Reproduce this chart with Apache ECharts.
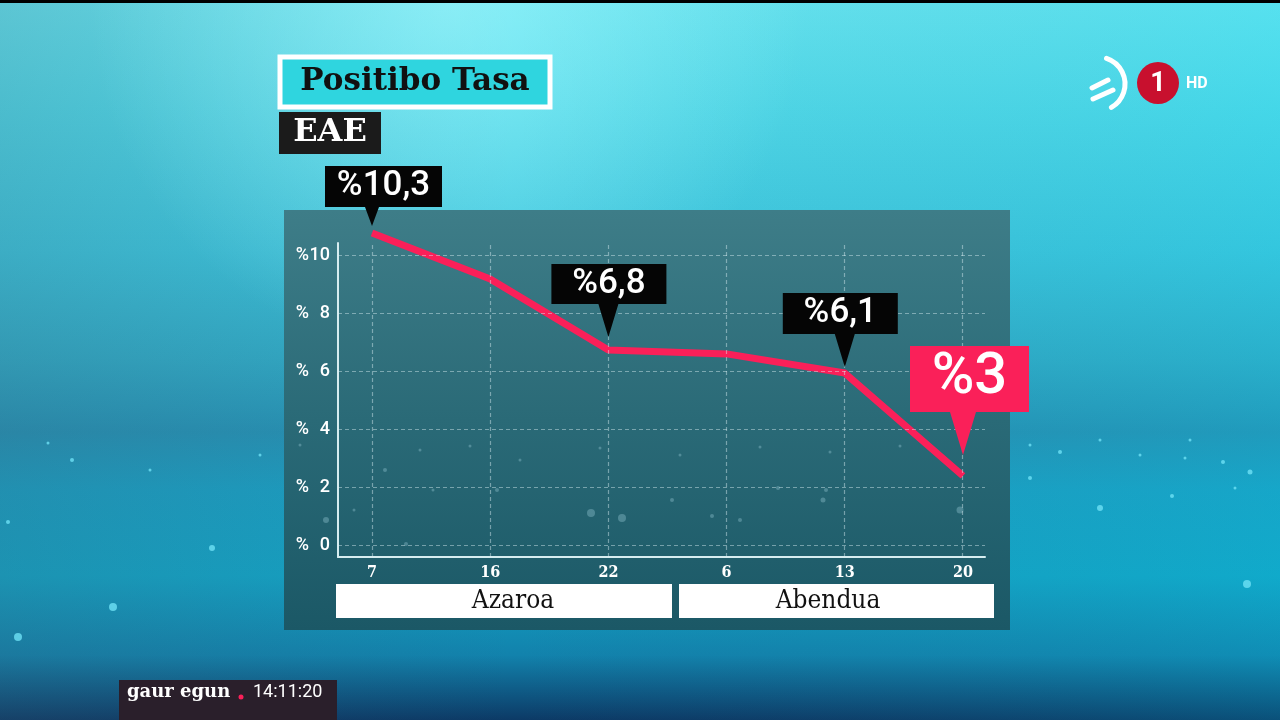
<!DOCTYPE html>
<html>
<head>
<meta charset="utf-8">
<script src="https://cdn.jsdelivr.net/npm/echarts@6/dist/echarts.min.js"></script>
<style>html,body{margin:0;padding:0;background:#000;}#c{width:1280px;height:720px;}</style>
</head>
<body>
<div id="c"></div>
<script>
// ---- data ----
const categories = ['7', '16', '22', '6', '13', '20'];
const months = ['Azaroa', 'Abendua'];
const values = [10.76, 9.17, 6.72, 6.59, 5.93, 2.38];
const yTicks = [0, 2, 4, 6, 8, 10];
const calloutIndex = [0, 2, 4, 5];
const calloutText = ['%10,3', '%6,8', '%6,1', '%3'];
const titleText = 'Positibo Tasa';
const regionText = 'EAE';

// ---- styles ----
const PINK = '#fa2059';
const slabFont = "'DejaVu Serif Condensed','DejaVu Serif',serif";
// callout box styles: width, box height, tip x, tip width, tip length, gap, color, font size
const pinStyles = [
  {w: 117, bh: 41, tx: 47, tw: 14, tl: 19, gap: 7, color: '#050505', fs: 35},
  {w: 115, bh: 40, tx: 57, tw: 20, tl: 33, gap: 13, color: '#050505', fs: 35},
  {w: 115, bh: 41, tx: 62, tw: 20, tl: 33, gap: 6, color: '#050505', fs: 35},
  {w: 119, bh: 66, tx: 53, tw: 26, tl: 43, gap: 21, color: PINK, fs: 58}
];
function pinPath(s) {
  const H = s.bh + s.tl;
  return 'path://M0,0 L' + s.w + ',0 L' + s.w + ',' + s.bh + ' L' + (s.tx + s.tw / 2) + ',' + s.bh +
    ' L' + s.tx + ',' + H + ' L' + (s.tx - s.tw / 2) + ',' + s.bh + ' L0,' + s.bh + ' Z';
}

const chart = echarts.init(document.getElementById('c'));
const G = echarts.graphic;

// decorative background sparkles (screen decoration, not data)
const sparkles = [
  [48, 443, 1.5], [72, 460, 2], [150, 470, 1.5], [212, 548, 3], [113, 607, 4], [18, 637, 4], [8, 522, 2],
  [260, 455, 1.5], [300, 445, 1.5], [1030, 445, 1.5], [1060, 452, 2], [1100, 440, 1.5], [1140, 455, 1.5],
  [1190, 440, 1.5], [1223, 462, 2], [1250, 472, 2.5], [1172, 496, 2], [1235, 488, 1.5], [1100, 508, 3],
  [1247, 584, 4], [1030, 478, 2], [1185, 458, 1.5],
  [420, 450, 1.5], [470, 446, 1.5], [520, 460, 1.5], [600, 448, 1.5], [680, 455, 1.5], [760, 447, 1.5],
  [830, 452, 1.5], [900, 446, 1.5], [385, 470, 2], [497, 490, 2], [591, 513, 4], [622, 518, 4],
  [672, 500, 2], [712, 516, 2], [778, 488, 2], [826, 490, 2], [823, 500, 2.5], [960, 510, 3.5],
  [406, 544, 2], [326, 520, 3], [354, 510, 1.5], [433, 490, 1.5], [740, 520, 2]
];

const graphics = [
  // background
  {type: 'rect', z: -10, silent: true, shape: {x: 0, y: 0, width: 1280, height: 720},
    style: {fill: new G.LinearGradient(0, 0, 0, 1, [
      {offset: 0, color: '#66e4f0'},
      {offset: 0.15, color: '#50d8e8'},
      {offset: 0.35, color: '#3cc4dc'},
      {offset: 0.5, color: '#30aac6'},
      {offset: 0.6, color: '#2592b5'},
      {offset: 0.68, color: '#1a9fc3'},
      {offset: 0.8, color: '#13a3c5'},
      {offset: 0.91, color: '#1282ac'},
      {offset: 1, color: '#0c3a66'}
    ])}},
  {type: 'rect', z: -9, silent: true, shape: {x: 0, y: 0, width: 1280, height: 720},
    style: {fill: new G.LinearGradient(0, 0, 1, 0, [
      {offset: 0, color: 'rgba(60,90,110,0.22)'},
      {offset: 0.4, color: 'rgba(60,90,110,0.0)'},
      {offset: 1, color: 'rgba(0,210,235,0.15)'}
    ])}},
  {type: 'rect', z: -8, silent: true, shape: {x: 0, y: 0, width: 1280, height: 720},
    style: {fill: new G.RadialGradient(0.35, 0.0, 0.5, [
      {offset: 0, color: 'rgba(175,250,255,0.5)'},
      {offset: 1, color: 'rgba(175,250,255,0)'}
    ])}},
  {type: 'rect', z: -7, silent: true, shape: {x: 0, y: 0, width: 1280, height: 3}, style: {fill: '#000'}},
  // chart panel
  {type: 'rect', z: -5, silent: true, shape: {x: 284, y: 210, width: 726, height: 420},
    style: {fill: new G.LinearGradient(0, 0, 0, 1, [
      {offset: 0, color: '#3e7d88'},
      {offset: 0.5, color: '#2a6a77'},
      {offset: 1, color: '#1b5866'}
    ])}},
  // title
  {type: 'rect', z: 5, shape: {x: 280, y: 57, width: 270, height: 50},
    style: {fill: '#2fd5df', stroke: '#ffffff', lineWidth: 5}},
  {type: 'text', z: 6, x: 415, y: 82, style: {text: titleText, fill: '#111', font: "bold 31px 'DejaVu Serif', serif", align: 'center', verticalAlign: 'middle'}},
  {type: 'rect', z: 5, shape: {x: 279, y: 112, width: 102, height: 42}, style: {fill: '#1b1b1b'}},
  {type: 'text', z: 6, x: 330, y: 133, style: {text: regionText, fill: '#fff', font: "bold 32px 'DejaVu Serif', serif", align: 'center', verticalAlign: 'middle'}},
  // month boxes
  {type: 'rect', z: 5, shape: {x: 336, y: 584, width: 336, height: 34}, style: {fill: '#ffffff'}},
  {type: 'text', z: 6, x: 513, y: 601, style: {text: months[0], fill: '#111', font: "26px " + slabFont, align: 'center', verticalAlign: 'middle'}},
  {type: 'rect', z: 5, shape: {x: 679, y: 584, width: 315, height: 34}, style: {fill: '#ffffff'}},
  {type: 'text', z: 6, x: 828, y: 601, style: {text: months[1], fill: '#111', font: "26px " + slabFont, align: 'center', verticalAlign: 'middle'}},
  // logo
  {type: 'arc', z: 5, shape: {cx: 1098, cy: 84, r: 27, startAngle: -1.25, endAngle: 1.05}, style: {stroke: '#fff', lineWidth: 5, fill: null, lineCap: 'round'}},
  {type: 'line', z: 5, shape: {x1: 1092, y1: 88, x2: 1108, y2: 80}, style: {stroke: '#fff', lineWidth: 5, lineCap: 'round'}},
  {type: 'line', z: 5, shape: {x1: 1093, y1: 99, x2: 1113, y2: 90}, style: {stroke: '#fff', lineWidth: 5, lineCap: 'round'}},
  {type: 'circle', z: 5, shape: {cx: 1158, cy: 83, r: 21}, style: {fill: '#c8102e'}},
  {type: 'text', z: 6, x: 1158, y: 84, style: {text: '1', fill: '#fff', font: "bold 27px 'Roboto', sans-serif", align: 'center', verticalAlign: 'middle'}},
  {type: 'text', z: 6, x: 1186, y: 84, style: {text: 'HD', fill: '#fff', font: "bold 16px 'Roboto', sans-serif", align: 'left', verticalAlign: 'middle'}},
  // program bug
  {type: 'rect', z: 5, shape: {x: 119, y: 680, width: 218, height: 40}, style: {fill: '#2a1f2b'}},
  {type: 'text', z: 6, x: 127, y: 692, style: {text: 'gaur egun', fill: '#fff', font: "bold 18px 'DejaVu Serif', serif", align: 'left', verticalAlign: 'middle'}},
  {type: 'circle', z: 6, shape: {cx: 241, cy: 697, r: 2.5}, style: {fill: PINK}},
  {type: 'text', z: 6, x: 253, y: 692, style: {text: '14:11:20', fill: '#fff', font: "18px 'Roboto', sans-serif", align: 'left', verticalAlign: 'middle'}}
].concat(sparkles.map(function (d) {
  const inPanel = d[0] > 284 && d[0] < 1010;
  return {type: 'circle', z: inPanel ? -4 : -6, silent: true, shape: {cx: d[0], cy: d[1], r: d[2]},
    style: {fill: inPanel ? 'rgba(160,210,220,0.35)' : 'rgba(110,225,245,0.8)'}};
}));

const axisLineStyle = {color: '#d6edf0', width: 2};
const hidden = {axisLine: {show: false}, axisTick: {show: false}, axisLabel: {show: false}, splitLine: {show: false}};

const option = {
  animation: false,
  graphic: graphics,
  grid: [
    {left: 338, top: 243, width: 647, height: 314},   // frame + grid lines
    {left: 372, top: 255, width: 591, height: 290},   // axis labels
    {left: 372, top: 197, width: 591, height: 348}    // data line + callouts
  ],
  xAxis: [
    {gridIndex: 0, type: 'value', min: -0.29, max: 5.19,
      axisLine: {show: true, onZero: false, lineStyle: axisLineStyle},
      axisTick: {show: false}, axisLabel: {show: false}, splitLine: {show: false}},
    {gridIndex: 1, type: 'category', boundaryGap: false, data: categories,
      axisLine: {show: false}, axisTick: {show: false}, splitLine: {show: false},
      axisLabel: {color: '#fff', fontSize: 16, fontWeight: 'bold', fontFamily: slabFont, margin: 20}},
    Object.assign({gridIndex: 2, type: 'value', min: 0, max: 5}, hidden)
  ],
  yAxis: [
    {gridIndex: 0, type: 'value', min: -0.41, max: 10.41,
      axisLine: {show: true, onZero: false, lineStyle: axisLineStyle},
      axisTick: {show: false}, axisLabel: {show: false}, splitLine: {show: false}},
    {gridIndex: 1, type: 'value', min: 0, max: 10, interval: 2,
      axisLine: {show: false}, axisTick: {show: false}, splitLine: {show: false},
      axisLabel: {margin: 42, align: 'right',
        formatter: function (v) { return '{p|%}{n|' + v + '}'; },
        rich: {
          p: {color: '#fff', fontSize: 18, fontWeight: 500, fontFamily: 'Roboto'},
          n: {color: '#fff', fontSize: 18, fontWeight: 500, fontFamily: 'Roboto', width: 21, align: 'right'}
        }}},
    Object.assign({gridIndex: 2, type: 'value', min: 0, max: 12}, hidden)
  ],
  series: [
    {
      type: 'line', xAxisIndex: 0, yAxisIndex: 0, z: 1, silent: true,
      data: values.map(function (v, i) { return [i, v]; }),
      symbol: 'none', lineStyle: {opacity: 0},
      markLine: {
        silent: true, symbol: 'none', label: {show: false},
        lineStyle: {color: 'rgba(220,240,245,0.45)', type: [4, 3], width: 1.2},
        data: yTicks.map(function (t) { return {yAxis: t}; })
          .concat(categories.map(function (c, i) { return {xAxis: i}; }))
      }
    },
    {
      type: 'line', xAxisIndex: 2, yAxisIndex: 2, z: 3, clip: false,
      data: values.map(function (v, i) { return [i, v]; }),
      symbol: 'none',
      lineStyle: {color: PINK, width: 7, join: 'round'},
      markPoint: {
        silent: true,
        data: calloutIndex.map(function (idx, k) {
          const s = pinStyles[k];
          const H = s.bh + s.tl;
          return {
            coord: [idx, values[idx]],
            symbol: pinPath(s),
            symbolSize: [s.w, H],
            symbolKeepAspect: false,
            symbolOffset: [s.w / 2 - s.tx, -s.gap - H / 2],
            itemStyle: {color: s.color},
            label: {show: true, position: 'inside', offset: [0, -s.tl / 2],
              formatter: calloutText[k], color: '#fff', fontSize: s.fs,
              fontFamily: "'Roboto', sans-serif", fontWeight: 500}
          };
        })
      }
    }
  ]
};
chart.setOption(option);
</script>
</body>
</html>
